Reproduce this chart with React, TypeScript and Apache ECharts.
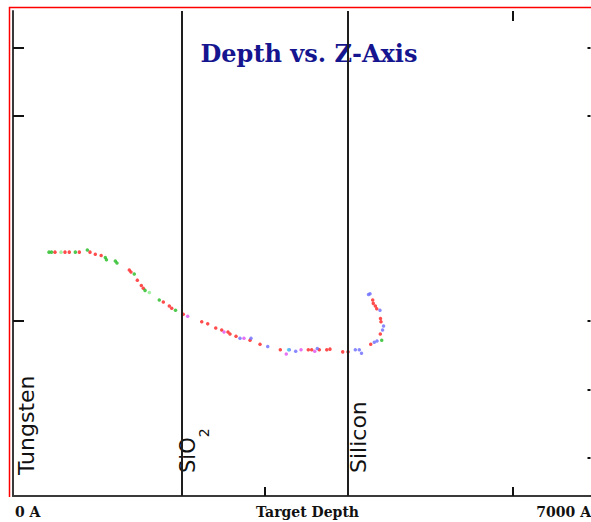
import React, { useEffect, useRef } from 'react';
import * as echarts from 'echarts';

// ---- text ----
const TITLE = 'Depth vs. Z-Axis';
const X_LEFT_LABEL = '0 A';
const X_NAME = 'Target Depth';
const X_RIGHT_LABEL = '7000 A';
const LAYER_TUNGSTEN = 'Tungsten';
const LAYER_SIO2 = 'SiO';
const LAYER_SIO2_SUB = '2';
const LAYER_SILICON = 'Silicon';

// ---- axes ----
const X_MIN = -40;
const X_MAX = 6936;
const Y_MIN = -56;
const Y_MAX = 654;
const LAYER_BOUNDARIES = [2000, 4000];
const X_TICKS_BOTTOM = [3000, 6000];
const X_TICKS_TOP = [6000];
const Y_TICKS_LEFT = [200, 500, 600];
const Y_TICKS_RIGHT = [0, 100, 200, 500, 600];

// ---- data (depth in A, z value) ----
const redDepth = [467, 588, 640, 761, 890, 954, 1025, 1365, 1385, 1462, 1510, 1534, 1776, 1848, 1877, 2017, 2240, 2312, 2409, 2481, 2557, 2581, 2654, 2823, 2944, 3189, 3527, 3568, 3660, 3750, 3789, 3943, 4007, 4281, 4397, 4405, 4399, 4354, 4337, 4312, 4305];
const redZ = [301, 301, 301, 301, 301, 298, 296, 275, 272, 260, 252, 248, 228, 222, 219, 210, 199, 196, 190, 187, 184, 181, 178, 172, 166, 158, 158, 158, 158, 158, 159, 155, 155, 166, 181, 199, 204, 218, 222, 226, 231];

const greenDepth = [395, 425, 713, 858, 1075, 1089, 1196, 1216, 1425, 1555, 1727, 1923, 4414];
const greenZ = [301, 301, 301, 304, 293, 290, 288, 285, 269, 245, 231, 216, 172];

const lightGreenDepth = [540, 1607];
const lightGreenZ = [301, 242];

const blueDepth = [2702, 2835, 3037, 3298, 3375, 3636, 4095, 4143, 4170, 4324, 4357, 4424, 4436, 4393, 4273, 4254];
const blueZ = [175, 175, 163, 158, 156, 160, 158, 158, 153, 169, 171, 187, 193, 216, 240, 239];

const magentaDepth = [2070, 2509, 2750, 3261, 3439, 3605];
const magentaZ = [207, 184, 175, 152, 158, 156];

const cyanDepth = [3288];
const cyanZ = [158];

const zip = (xs: number[], ys: number[]) => xs.map((x, i) => [x, ys[i]]);

const dotSeries = (name: string, xs: number[], ys: number[], color: string, extra: any = {}) => ({
  name,
  type: 'scatter',
  data: zip(xs, ys),
  symbol: 'circle',
  symbolSize: 3.5,
  itemStyle: { color },
  silent: true,
  z: 3,
  ...extra,
});

export default function App() {
  const ref = useRef<HTMLDivElement>(null);

  useEffect(() => {
    if (!ref.current) return;
    const chart = echarts.init(ref.current, null, { renderer: 'svg' });
    const axisLine = { show: true, onZero: false, lineStyle: { color: '#3a3a3a', width: 2 } };
    const option: any = {
      animation: false,
      backgroundColor: '#ffffff',
      grid: { left: 13, right: 0.5, top: 11, bottom: 26, containLabel: false },
      xAxis: [
        {
          type: 'value',
          position: 'bottom',
          min: X_MIN,
          max: X_MAX,
          axisLine,
          axisTick: { show: true, inside: true, length: 9, customValues: X_TICKS_BOTTOM, lineStyle: { color: '#111', width: 2 } },
          axisLabel: { show: false },
          splitLine: { show: false },
        },
        {
          type: 'value',
          position: 'top',
          min: X_MIN,
          max: X_MAX,
          axisLine: { show: false, onZero: false },
          axisTick: { show: true, inside: true, length: 10, customValues: X_TICKS_TOP, lineStyle: { color: '#111', width: 2 } },
          axisLabel: { show: false },
          splitLine: { show: false },
        },
      ],
      yAxis: [
        {
          type: 'value',
          position: 'left',
          min: Y_MIN,
          max: Y_MAX,
          axisLine,
          axisTick: { show: true, inside: true, length: 11, customValues: Y_TICKS_LEFT, lineStyle: { color: '#111', width: 2 } },
          axisLabel: { show: false },
          splitLine: { show: false },
        },
        {
          type: 'value',
          position: 'right',
          min: Y_MIN,
          max: Y_MAX,
          axisLine: { show: false, onZero: false },
          axisTick: { show: true, inside: true, length: 3, customValues: Y_TICKS_RIGHT, lineStyle: { color: '#111', width: 2 } },
          axisLabel: { show: false },
          splitLine: { show: false },
        },
      ],
      series: [
        dotSeries('red', redDepth, redZ, '#ff1f1f', {
          markLine: {
            silent: true,
            symbol: 'none',
            label: { show: false },
            lineStyle: { color: '#1e1e1e', width: 2, type: 'solid' },
            data: LAYER_BOUNDARIES.map((v) => ({ xAxis: v })),
          },
        }),
        dotSeries('green', greenDepth, greenZ, '#22bb22'),
        dotSeries('lightgreen', lightGreenDepth, lightGreenZ, '#86ee86'),
        dotSeries('blue', blueDepth, blueZ, '#6b6bff'),
        dotSeries('magenta', magentaDepth, magentaZ, '#e050f0'),
        dotSeries('cyan', cyanDepth, cyanZ, '#55ccee'),
      ],
      graphic: [
        {
          type: 'polyline',
          z: -10,
          silent: true,
          shape: { points: [[9.5, 497], [9.5, 7.5], [600, 7.5]] },
          style: { fill: 'none', stroke: '#ff0000', lineWidth: 1.5 },
        },
        {
          type: 'text',
          x: 309,
          y: 53,
          style: {
            text: TITLE,
            fill: '#15158f',
            font: 'bold 24px "DejaVu Serif"',
            textAlign: 'center',
            textVerticalAlign: 'middle',
          },
        },
        {
          type: 'text',
          x: 15,
          y: 512,
          style: { text: X_LEFT_LABEL, fill: '#111', font: 'bold 14px "DejaVu Serif"', textAlign: 'left', textVerticalAlign: 'middle' },
        },
        {
          type: 'text',
          x: 307.5,
          y: 512,
          style: { text: X_NAME, fill: '#111', font: 'bold 14px "DejaVu Serif"', textAlign: 'center', textVerticalAlign: 'middle' },
        },
        {
          type: 'text',
          x: 591,
          y: 512,
          style: { text: X_RIGHT_LABEL, fill: '#111', font: 'bold 14px "DejaVu Serif"', textAlign: 'right', textVerticalAlign: 'middle' },
        },
        {
          type: 'text',
          x: 26,
          y: 475,
          rotation: Math.PI / 2,
          style: { text: LAYER_TUNGSTEN, fill: '#111', font: '22px "DejaVu Sans"', textAlign: 'left', textVerticalAlign: 'middle' },
        },
        {
          type: 'text',
          x: 194,
          y: 473,
          rotation: Math.PI / 2,
          style: {
            text: '{a|' + LAYER_SIO2 + '}{b|' + LAYER_SIO2_SUB + '}',
            textAlign: 'left',
            textVerticalAlign: 'middle',
            rich: {
              a: { fontFamily: 'DejaVu Sans', fontSize: 21, fill: '#111', lineHeight: 22, verticalAlign: 'top' },
              b: { fontFamily: 'DejaVu Sans', fontSize: 14, fill: '#111', lineHeight: 33, verticalAlign: 'bottom', padding: [0, 0, 0, 0] },
            },
          },
        },
        {
          type: 'text',
          x: 358,
          y: 473,
          rotation: Math.PI / 2,
          style: { text: LAYER_SILICON, fill: '#111', font: '22px "DejaVu Sans"', textAlign: 'left', textVerticalAlign: 'middle' },
        },
      ],
    };
    chart.setOption(option);
    return () => chart.dispose();
  }, []);

  return (
    <div
      ref={ref}
      style={{ position: 'fixed', left: 0, top: 0, width: 591, height: 522, background: '#fff' }}
    />
  );
}
